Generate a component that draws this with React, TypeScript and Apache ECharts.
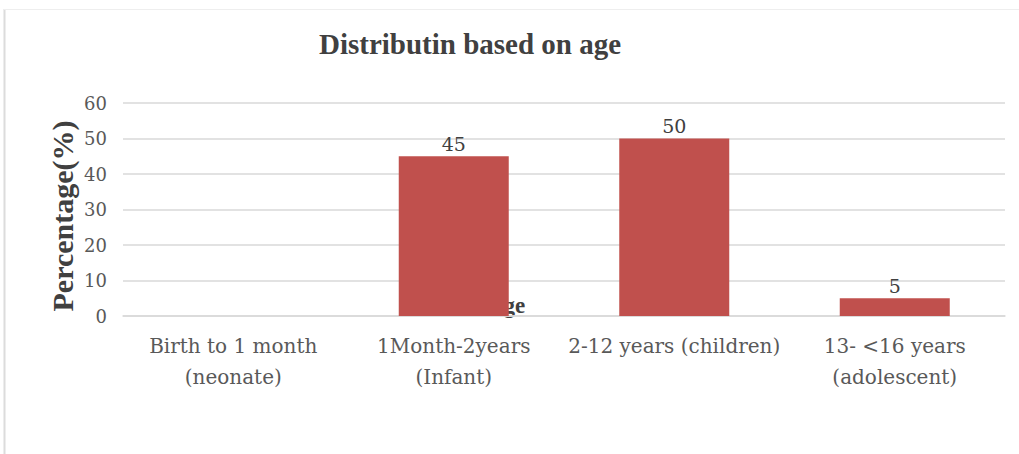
import React, { useEffect, useRef } from "react";
import * as echarts from "echarts";

const categories = [
  "Birth to 1 month\n(neonate)",
  "1Month-2years\n(Infant)",
  "2-12 years (children)",
  "13- <16 years\n(adolescent)",
];
const percentages = [0, 45, 50, 5];
const titleText = "Distributin based on age";
const yAxisTitle = "Percentage(%)";
const xAxisTitle = "Age";

export default function App() {
  const ref = useRef<HTMLDivElement>(null);
  useEffect(() => {
    if (!ref.current) return;
    const chart = echarts.init(ref.current, null, { renderer: "svg" });
    const serif = "'Liberation Serif', 'DejaVu Serif', serif";
    const wide = "'DejaVu Serif', 'Liberation Serif', serif";
    chart.setOption({
      animation: false,
      backgroundColor: "#ffffff",
      title: {
        text: titleText,
        left: 465,
        top: 24,
        textAlign: "center",
        textStyle: {
          fontFamily: serif,
          fontWeight: "bold",
          fontSize: 29,
          color: "#404040",
        },
      },
      graphic: [
        {
          type: "line",
          shape: { x1: 4.5, y1: 9, x2: 4.5, y2: 454 },
          style: { stroke: "#dcdcdc", lineWidth: 2 },
          silent: true,
        },
        {
          type: "line",
          shape: { x1: 4, y1: 9.5, x2: 1019, y2: 9.5 },
          style: { stroke: "#eeeeee", lineWidth: 1 },
          silent: true,
        },
        {
          type: "text",
          x: 62,
          y: 216,
          rotation: Math.PI / 2,
          style: {
            text: yAxisTitle,
            fontFamily: serif,
            fontWeight: "bold",
            fontSize: 30,
            fill: "#404040",
            align: "center",
            verticalAlign: "middle",
          },
        },
        {
          type: "text",
          z: 0,
          x: 506,
          y: 305,
          style: {
            text: xAxisTitle,
            fontFamily: serif,
            fontWeight: "bold",
            fontSize: 23,
            fill: "#404040",
            align: "center",
            verticalAlign: "middle",
          },
        },
      ],
      grid: { left: 123, right: 14, top: 103, bottom: 138, containLabel: false },
      xAxis: {
        type: "category",
        data: categories,
        axisLine: { show: true, lineStyle: { color: "#d9d9d9", width: 1.5 } },
        axisTick: { show: false },
        axisLabel: {
          fontFamily: wide,
          fontSize: 20,
          color: "#595959",
          lineHeight: 31,
          margin: 14,
          interval: 0,
        },
      },
      yAxis: {
        type: "value",
        min: 0,
        max: 60,
        interval: 10,
        axisLine: { show: false },
        axisTick: { show: false },
        axisLabel: {
          fontFamily: wide,
          fontSize: 18,
          color: "#595959",
          margin: 16,
        },
        splitLine: { lineStyle: { color: "#d9d9d9", width: 1.5 } },
      },
      series: [
        {
          type: "bar",
          data: percentages,
          barWidth: 110,
          itemStyle: { color: "#c0504d" },
          label: {
            show: true,
            position: "top",
            distance: 3,
            fontFamily: wide,
            fontSize: 19,
            color: "#404040",
            formatter: (p: any) => (p.value === 0 ? "" : String(p.value)),
          },
        },
      ],
    });
    return () => chart.dispose();
  }, []);
  return (
    <div
      ref={ref}
      style={{ position: "fixed", left: 0, top: 0, width: 1019, height: 454 }}
    />
  );
}
